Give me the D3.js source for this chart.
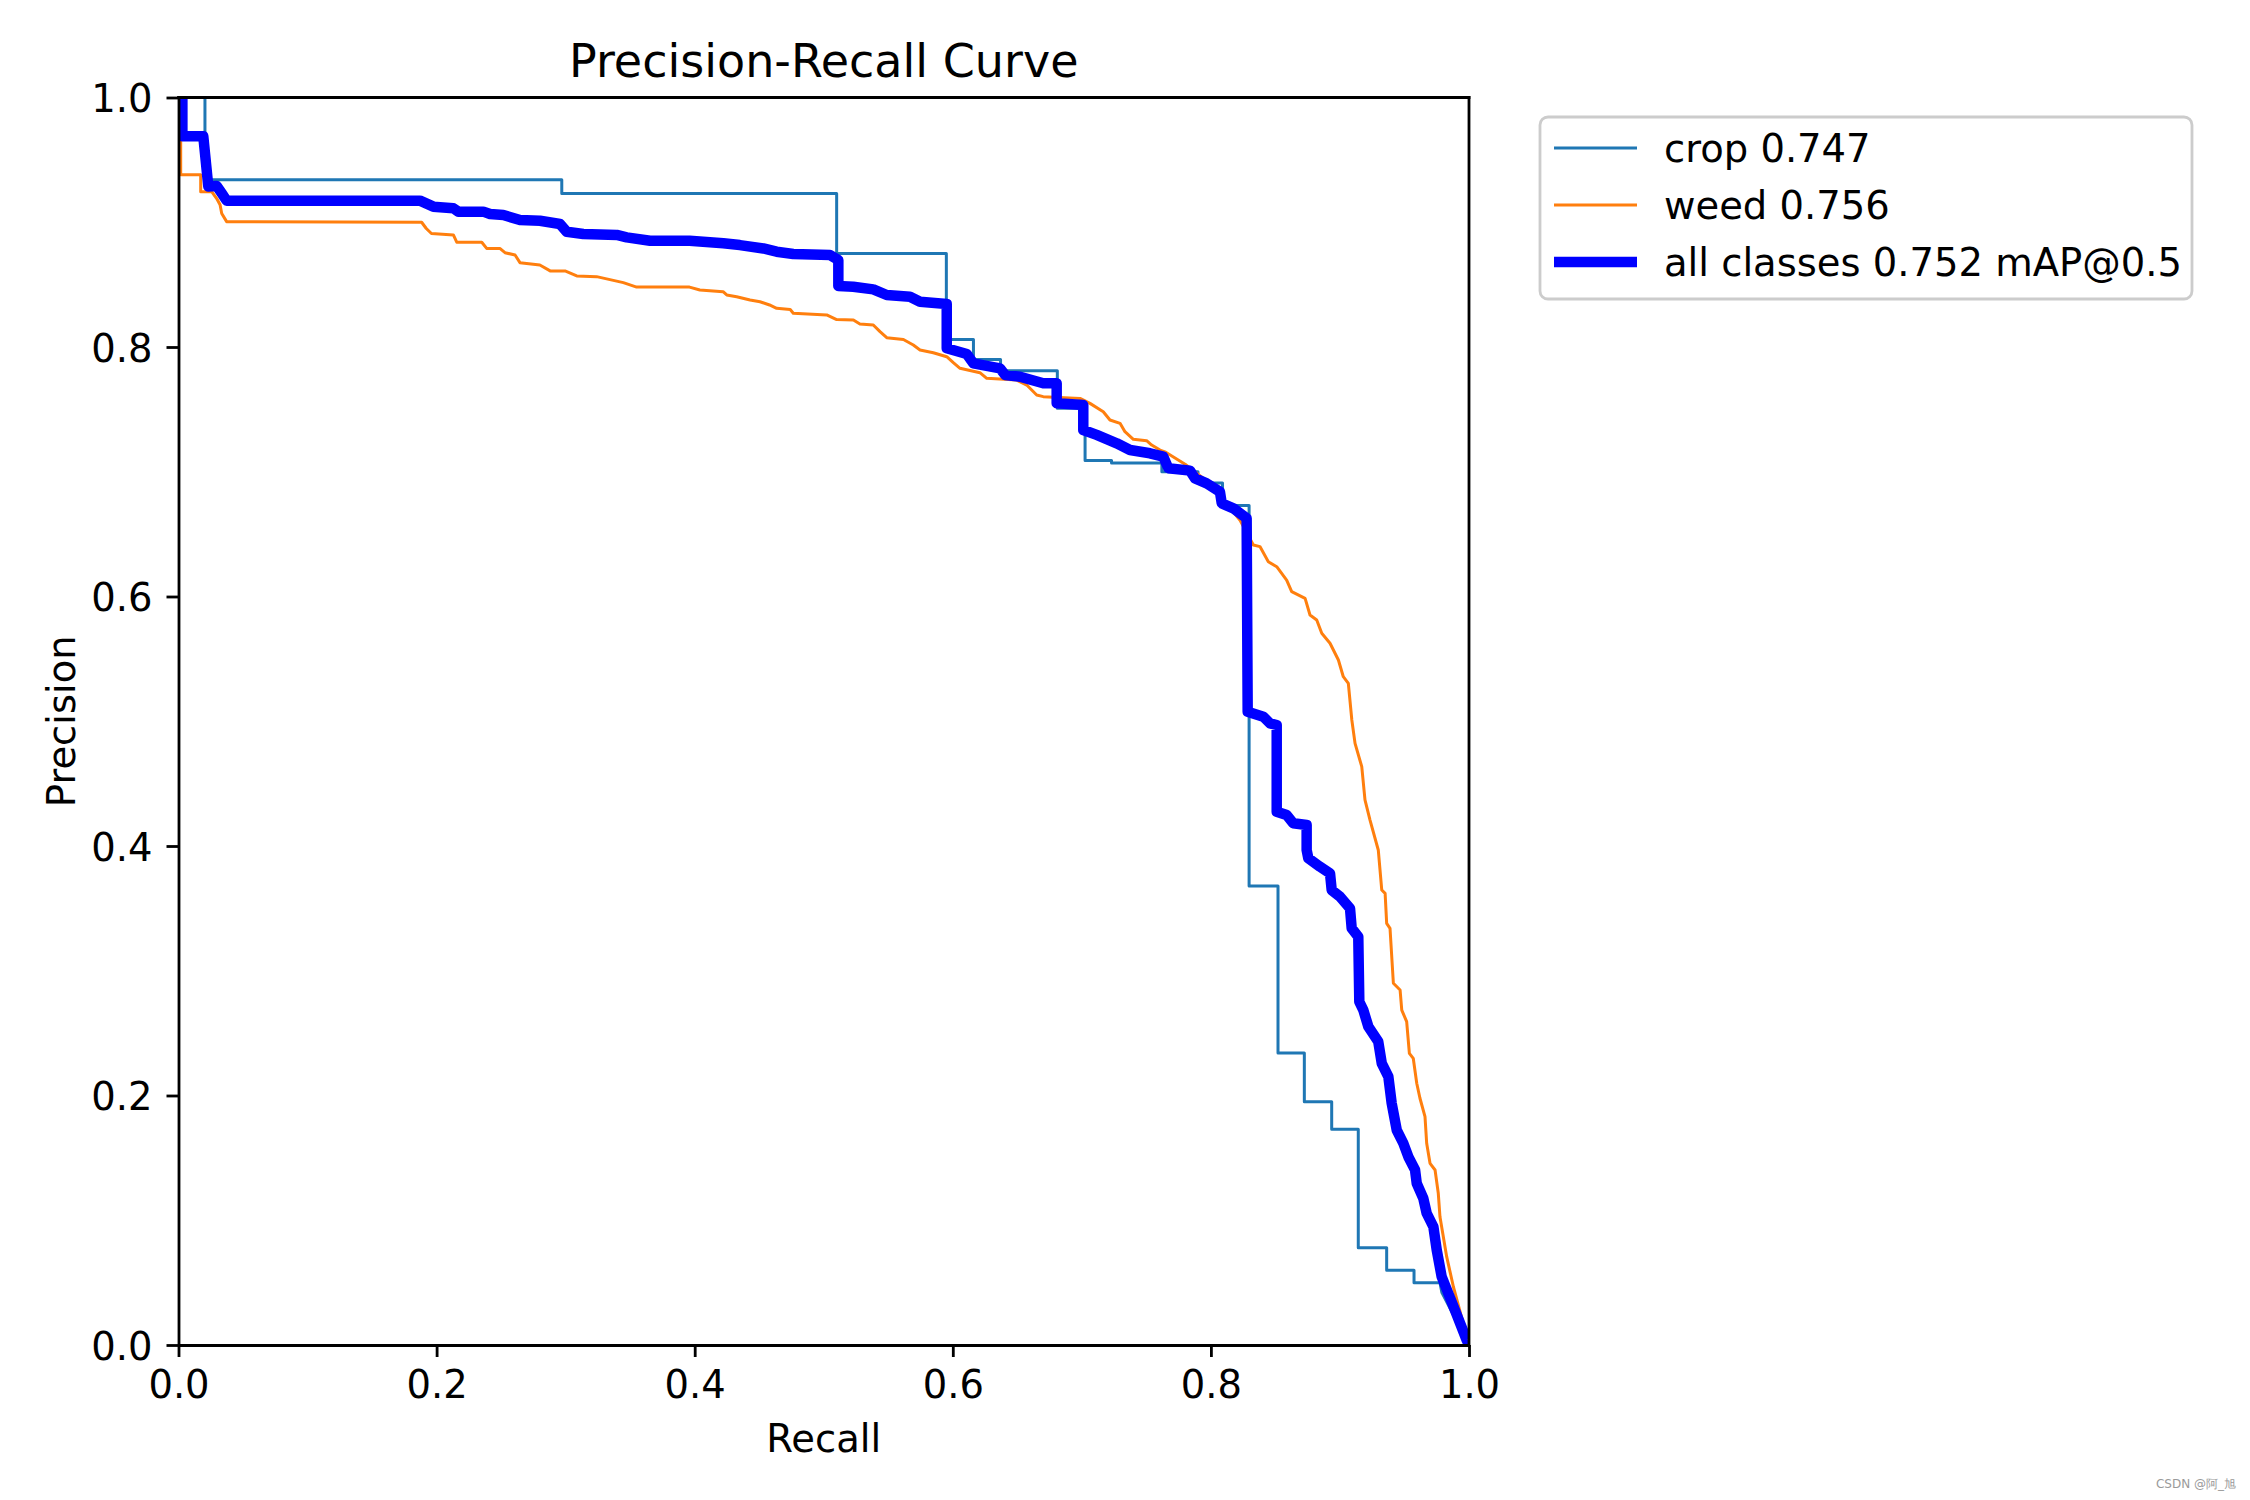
<!DOCTYPE html>
<html>
<head>
<meta charset="utf-8">
<script src="https://cdn.jsdelivr.net/npm/d3@7"></script>
<style>
  html, body { margin: 0; padding: 0; background: #ffffff; }
  svg { display: block; }
  text { font-family: "DejaVu Sans", sans-serif; fill: #000; }
</style>
</head>
<body>
<script>
// ---------------- DATA ----------------
const xTicks = [0.0, 0.2, 0.4, 0.6, 0.8, 1.0];
const yTicks = [0.0, 0.2, 0.4, 0.6, 0.8, 1.0];

const seriesNames = ["crop 0.747", "weed 0.756", "all classes 0.752 mAP@0.5"];

const cropRecall = [0, 0.0205, 0.0205, 0.297, 0.297, 0.510, 0.510, 0.595, 0.595, 0.616, 0.616, 0.637, 0.637, 0.681, 0.681, 0.7025, 0.7025, 0.723, 0.723, 0.762, 0.762, 0.79, 0.79, 0.809, 0.809, 0.8296, 0.8296, 0.852, 0.852, 0.8724, 0.8724, 0.8936, 0.8936, 0.9142, 0.9142, 0.9362, 0.9362, 0.9574, 0.9574, 0.9775, 0.979, 1.0];
const cropPrecision = [1.0, 1.0, 0.934, 0.934, 0.923, 0.923, 0.875, 0.875, 0.806, 0.806, 0.790, 0.790, 0.781, 0.781, 0.751, 0.751, 0.709, 0.709, 0.707, 0.707, 0.700, 0.700, 0.691, 0.691, 0.673, 0.673, 0.368, 0.368, 0.234, 0.234, 0.195, 0.195, 0.173, 0.173, 0.078, 0.078, 0.060, 0.060, 0.050, 0.050, 0.042, 0.0];

const weedRecall = [0, 0.0017, 0.0017, 0.0172, 0.0172, 0.0257, 0.0296, 0.0322, 0.0335, 0.0373, 0.1884, 0.192, 0.196, 0.213, 0.2156, 0.235, 0.2388, 0.249, 0.253, 0.2608, 0.2646, 0.280, 0.288, 0.2995, 0.3086, 0.324, 0.3447, 0.355, 0.396, 0.404, 0.422, 0.4248, 0.4325, 0.4429, 0.4506, 0.458, 0.4635, 0.474, 0.4764, 0.5023, 0.510, 0.523, 0.528, 0.5384, 0.5436, 0.5488, 0.5617, 0.5694, 0.5746, 0.5849, 0.5953, 0.6004, 0.6056, 0.621, 0.6263, 0.6495, 0.6573, 0.665, 0.6701, 0.6986, 0.7063, 0.7166, 0.7218, 0.7296, 0.7334, 0.7399, 0.7502, 0.7541, 0.7606, 0.7644, 0.78, 0.80, 0.8226, 0.8329, 0.838, 0.8445, 0.851, 0.8587, 0.8626, 0.873, 0.8768, 0.882, 0.8859, 0.8923, 0.8988, 0.9026, 0.9065, 0.9092, 0.9117, 0.9169, 0.9194, 0.9233, 0.9297, 0.9324, 0.935, 0.9362, 0.9388, 0.9414, 0.9466, 0.9479, 0.9517, 0.9538, 0.9568, 0.9595, 0.962, 0.9659, 0.9672, 0.9698, 0.9737, 0.9762, 0.9775, 0.9827, 0.9879, 1.0];
const weedPrecision = [1.0, 0.9646, 0.938, 0.938, 0.9245, 0.9245, 0.919, 0.914, 0.907, 0.9005, 0.900, 0.895, 0.891, 0.8898, 0.884, 0.884, 0.879, 0.879, 0.8756, 0.8737, 0.8676, 0.8657, 0.861, 0.861, 0.857, 0.8564, 0.8516, 0.848, 0.848, 0.8457, 0.8443, 0.8417, 0.8403, 0.8377, 0.8363, 0.8337, 0.831, 0.830, 0.827, 0.8257, 0.822, 0.8216, 0.8184, 0.8176, 0.8123, 0.8075, 0.806, 0.8016, 0.7976, 0.7954, 0.7922, 0.7874, 0.7829, 0.7794, 0.7749, 0.7735, 0.7695, 0.7615, 0.7602, 0.7588, 0.7548, 0.7481, 0.7415, 0.7388, 0.7321, 0.726, 0.7249, 0.7214, 0.7174, 0.716, 0.706, 0.690, 0.661, 0.6413, 0.640, 0.6279, 0.6239, 0.6132, 0.6039, 0.5985, 0.5852, 0.5812, 0.5705, 0.5625, 0.5491, 0.5357, 0.5304, 0.501, 0.4823, 0.4636, 0.4369, 0.4208, 0.3968, 0.3647, 0.362, 0.338, 0.334, 0.290, 0.2846, 0.2685, 0.2592, 0.2338, 0.2298, 0.2098, 0.1978, 0.183, 0.1617, 0.1456, 0.1403, 0.1216, 0.1028, 0.0708, 0.0467, 0.0];

const allRecall = [0, 0.003, 0.003, 0.0192, 0.0231, 0.0296, 0.0335, 0.0373, 0.1871, 0.1975, 0.213, 0.2168, 0.2362, 0.2414, 0.2517, 0.2646, 0.2801, 0.2956, 0.3008, 0.3137, 0.3396, 0.3473, 0.3654, 0.396, 0.4222, 0.435, 0.4532, 0.4635, 0.4764, 0.5048, 0.5113, 0.5113, 0.5229, 0.5384, 0.5488, 0.5668, 0.5746, 0.5953, 0.5953, 0.6108, 0.6159, 0.6366, 0.6405, 0.6521, 0.6701, 0.6805, 0.6805, 0.7011, 0.7011, 0.7115, 0.727, 0.7373, 0.7528, 0.7631, 0.767, 0.7838, 0.7877, 0.7967, 0.807, 0.8084, 0.8174, 0.8277, 0.8285, 0.8406, 0.8458, 0.851, 0.851, 0.8587, 0.8638, 0.8742, 0.8742, 0.8755, 0.8845, 0.8923, 0.8936, 0.900, 0.9078, 0.9091, 0.9142, 0.915, 0.9181, 0.922, 0.9297, 0.9324, 0.9375, 0.9401, 0.944, 0.9491, 0.953, 0.9582, 0.9595, 0.9646, 0.9672, 0.9724, 0.975, 0.9788, 0.9891, 0.9982, 1.0];
const allPrecision = [1.0, 1.0, 0.969, 0.969, 0.9286, 0.9291, 0.9232, 0.9173, 0.9173, 0.9125, 0.9112, 0.9085, 0.9085, 0.9066, 0.9058, 0.9018, 0.9012, 0.8986, 0.8924, 0.8906, 0.8898, 0.8879, 0.8852, 0.8852, 0.8831, 0.8817, 0.879, 0.8764, 0.8746, 0.8737, 0.8697, 0.8489, 0.8483, 0.8462, 0.8417, 0.8403, 0.8363, 0.8345, 0.799, 0.7944, 0.7869, 0.7829, 0.7776, 0.7762, 0.7709, 0.7709, 0.7549, 0.7535, 0.7335, 0.7295, 0.7228, 0.7174, 0.7148, 0.7121, 0.7028, 0.7009, 0.6947, 0.6907, 0.684, 0.6747, 0.6707, 0.6627, 0.5077, 0.5037, 0.4983, 0.497, 0.4275, 0.4248, 0.4182, 0.4168, 0.3968, 0.3901, 0.3834, 0.3781, 0.3647, 0.3594, 0.35, 0.334, 0.3273, 0.2752, 0.2685, 0.2552, 0.2431, 0.2258, 0.2151, 0.1937, 0.1723, 0.1617, 0.1509, 0.1403, 0.1296, 0.1176, 0.1056, 0.0948, 0.0762, 0.0548, 0.028, 0.004, 0.0];

const seriesColors = ["#1f77b4", "#ff7f0e", "#0000ff"];

// ---------------- LAYOUT ----------------
(function () {
const W = 2250, H = 1500;
const pL = 178.5, pR = 1469, pT = 97.5, pB = 1345;
const fs = 38.5, fsTitle = 46;

const svg = d3.select("body").append("svg")
  .attr("width", W).attr("height", H)
  .attr("viewBox", `0 0 ${W} ${H}`);
svg.append("rect").attr("width", W).attr("height", H).attr("fill", "#ffffff");

const x = d3.scaleLinear().domain([0, 1]).range([pL, pR]);
const y = d3.scaleLinear().domain([0, 1]).range([pB, pT]);

svg.append("clipPath").attr("id", "plotclip")
  .append("rect").attr("x", pL).attr("y", pT)
  .attr("width", pR - pL).attr("height", pB - pT);

const series = [
  { r: cropRecall, p: cropPrecision, w: 3.0 },
  { r: weedRecall, p: weedPrecision, w: 3.0 },
  { r: allRecall, p: allPrecision, w: 10.5 }
];

const line = d3.line().x(d => x(d[0])).y(d => y(d[1]));
const plotG = svg.append("g").attr("clip-path", "url(#plotclip)");
series.forEach((s, i) => {
  const pts = s.r.map((v, k) => [v, s.p[k]]);
  plotG.append("path")
    .attr("d", line(pts))
    .attr("fill", "none")
    .attr("stroke", seriesColors[i])
    .attr("stroke-width", s.w)
    .attr("stroke-linejoin", "round")
    .attr("stroke-linecap", "butt");
});

// ---------------- AXES ----------------
const fmt = d3.format(".1f");
const xAxis = svg.append("g").attr("transform", `translate(0,${pB})`)
  .call(d3.axisBottom(x).tickValues(xTicks).tickFormat(fmt).tickSize(12).tickPadding(20).tickSizeOuter(0));
const yAxis = svg.append("g").attr("transform", `translate(${pL},0)`)
  .call(d3.axisLeft(y).tickValues(yTicks).tickFormat(fmt).tickSize(12).tickPadding(14).tickSizeOuter(0));

[xAxis, yAxis].forEach(a => {
  a.selectAll("path.domain").attr("stroke", "#000").attr("stroke-width", 2.8);
  a.selectAll(".tick line").attr("stroke", "#000").attr("stroke-width", 2.8);
  a.selectAll(".tick text")
    .attr("font-family", "DejaVu Sans, sans-serif")
    .attr("font-size", fs).attr("fill", "#000");
});
xAxis.selectAll(".tick text").attr("dy", null).attr("y", 53);
yAxis.selectAll(".tick text").attr("dy", null).attr("y", 14).attr("x", -26);

// top and right spines
svg.append("line").attr("x1", x(0)).attr("x2", x(1)).attr("y1", y(1)).attr("y2", y(1))
  .attr("stroke", "#000").attr("stroke-width", 2.8).attr("stroke-linecap", "square");
svg.append("line").attr("x1", x(1)).attr("x2", x(1)).attr("y1", y(0)).attr("y2", y(1))
  .attr("stroke", "#000").attr("stroke-width", 2.8).attr("stroke-linecap", "square");

// labels
svg.append("text").attr("x", (pL + pR) / 2).attr("y", 77)
  .attr("text-anchor", "middle").attr("font-size", fsTitle).text("Precision-Recall Curve");
svg.append("text").attr("x", (pL + pR) / 2).attr("y", 1452)
  .attr("text-anchor", "middle").attr("font-size", fs).text("Recall");
svg.append("text")
  .attr("transform", `translate(75,${(pT + pB) / 2}) rotate(-90)`)
  .attr("text-anchor", "middle").attr("font-size", fs).text("Precision");

// ---------------- LEGEND ----------------
const lg = svg.append("g");
lg.append("rect").attr("x", 1540).attr("y", 117).attr("width", 652).attr("height", 182)
  .attr("rx", 8).attr("ry", 8)
  .attr("fill", "#ffffff").attr("fill-opacity", 0.8)
  .attr("stroke", "#cccccc").attr("stroke-width", 2.8);
const rowY = [148, 205, 262];
seriesNames.forEach((name, i) => {
  lg.append("line").attr("x1", 1554).attr("x2", 1637)
    .attr("y1", rowY[i]).attr("y2", rowY[i])
    .attr("stroke", seriesColors[i]).attr("stroke-width", series[i].w);
  lg.append("text").attr("x", 1664).attr("y", rowY[i] + 14)
    .attr("font-size", fs).text(name);
});

// watermark
svg.append("text").attr("x", 2236).attr("y", 1488).attr("text-anchor", "end")
  .attr("font-size", 12).style("fill", "#9a9a9a").attr("font-family", "Noto Sans CJK SC, sans-serif")
  .text("CSDN @阿_旭");
})();
</script>
</body>
</html>
